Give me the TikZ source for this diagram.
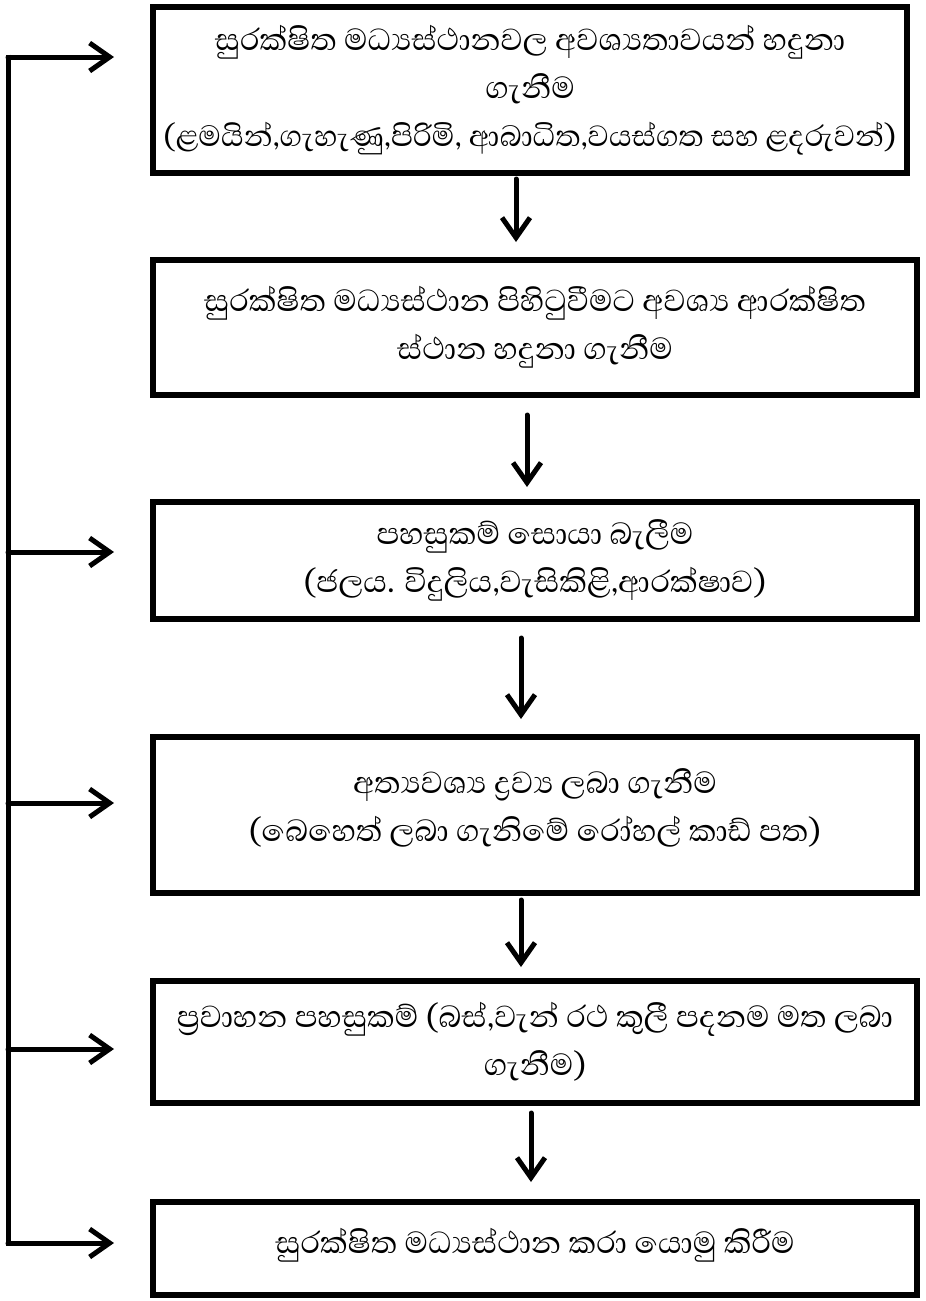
\documentclass[tikz,border=0pt]{standalone}
\usepackage{fontspec}
\newfontfamily\sinhala[Script=Sinhala]{Abhaya Libre}
\usetikzlibrary{arrows.meta}
\tikzset{
    stage-box/.style = {draw, line width=6pt, align=center, inner sep=0pt, font=\sinhala\fontsize{39}{48}\selectfont},
    flow-arrow/.style = {line width=5pt, line cap=round, -{Straight Barb[length=20pt,width=28pt]}, shorten >=14pt},
    feed-line/.style = {line width=5pt},
}
\newcommand{\zj}{^^^^200d}
\newcommand{\lift}[1]{\rule[-#1]{0pt}{#1}}

\begin{document}
\begin{tikzpicture}[x=1pt, y=-1pt]
\useasboundingbox (0,0) rectangle (926,1301);
\node[stage-box, minimum width=754pt, minimum height=166pt] (b1) at (530,90) {සුරක්ෂිත මධ්\zj යස්ථානවල අවශ්\zj යතාවයන් හදුනා\\ගැනීම\\{\fontsize{37.5}{48}\selectfont (ළමයින්,ගැහැණු,පිරිමි, ආබාධිත,වයස්ගත සහ ළදරුවන්)}};
\node[stage-box, minimum width=764pt, minimum height=135pt] (b2) at (535,327.5) {සුරක්ෂිත මධ්\zj යස්ථාන පිහිටුවීමට අවශ්\zj ය ආරක්ෂිත\\ස්ථාන හදුනා ගැනීම};
\node[stage-box, minimum width=764pt, minimum height=117pt] (b3) at (535,560.5) {පහසුකම් සොයා බැලීම\\(ජලය. විදුලිය,වැසිකිළි,ආරක්ෂාව)};
\node[stage-box, minimum width=764pt, minimum height=156pt] (b4) at (535,815) {අත්\zj යවශ්\zj ය ද්\zj රව්\zj ය ලබා ගැනීම\\(බෙහෙත් ලබා ගැනිමේ රෝහල් කාඩ් පත)\lift{20pt}};
\node[stage-box, minimum width=764pt, minimum height=122pt] (b5) at (535,1042) {ප්\zj රවාහන පහසුකම් (බස්,වැන් රථ කුලී පදනම මත ලබා\\ගැනීම)};
\node[stage-box, minimum width=764pt, minimum height=93pt] (b6) at (535,1248.5) {සුරක්ෂිත මධ්\zj යස්ථාන කරා යොමු කිරීම\lift{16pt}};

% down the chain
\draw[flow-arrow, shorten <=3pt, shorten >=15pt] ([xshift=-14pt]b1.south) -- ([xshift=-19pt]b2.north);
\draw[flow-arrow, shorten <=17pt, shorten >=12pt] ([xshift=-8pt]b2.south) -- ([xshift=-8pt]b3.north);
\draw[flow-arrow, shorten <=16pt, shorten >=15pt] ([xshift=-14pt]b3.south) -- ([xshift=-14pt]b4.north);
\draw[flow-arrow, shorten <=4pt, shorten >=11pt] ([xshift=-14pt]b4.south) -- ([xshift=-14pt]b5.north);
\draw[flow-arrow, shorten <=7pt, shorten >=17pt] ([xshift=-4pt]b5.south) -- ([xshift=-4pt]b6.north);

% feedback trunk on the left
\coordinate (trunk-top) at (8,57);
\coordinate (trunk-end) at (8,1243);
\coordinate (in1) at ([yshift=33pt]b1.west);
\coordinate (in3) at ([yshift=8.5pt]b3.west);
\coordinate (in4) at ([yshift=12pt]b4.west);
\coordinate (in5) at ([yshift=-7pt]b5.west);
\coordinate (in6) at ([yshift=5.5pt]b6.west);
\draw[feed-line] ([yshift=2.5pt]trunk-top) -- ([yshift=-2.5pt]trunk-end);
\draw[flow-arrow, shorten >=36pt] (trunk-top) -- (in1);
\draw[flow-arrow, shorten >=36pt] (trunk-top |- in3) -- (in3);
\draw[flow-arrow, shorten >=36pt] (trunk-top |- in4) -- (in4);
\draw[flow-arrow, shorten >=36pt] (trunk-top |- in5) -- (in5);
\draw[flow-arrow, shorten >=36pt] (trunk-end) -- (in6);
\end{tikzpicture}
\end{document}
